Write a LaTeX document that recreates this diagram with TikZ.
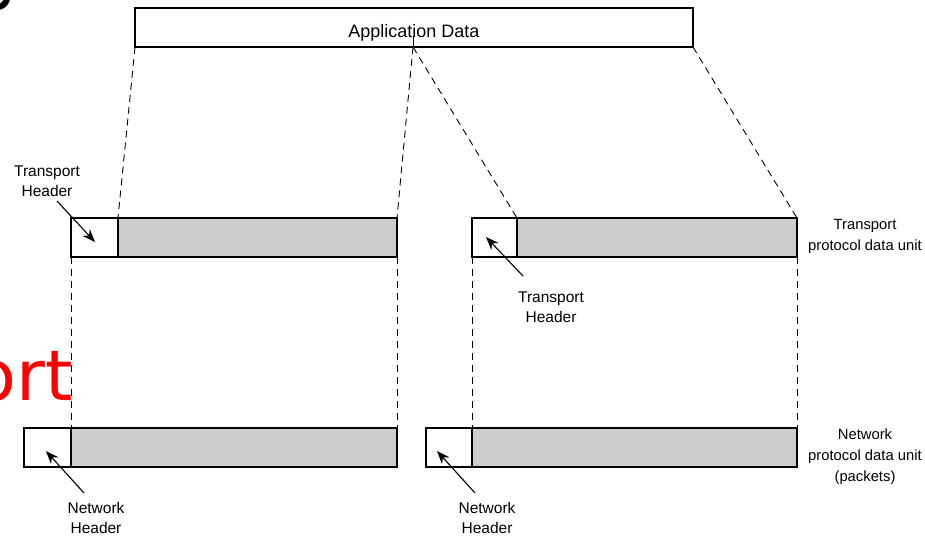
\documentclass[tikz,border=0pt]{standalone}
\usepackage{fontspec}
\setmainfont{Liberation Sans}
\newfontfamily\slidefont{DejaVu Sans}
\usetikzlibrary{arrows.meta}
\definecolor{pdugray}{RGB}{204,204,204}
\begin{document}
\begin{tikzpicture}[x=1pt,y=-1pt,
  pdu/.style={draw, line width=2.2pt, minimum height=39pt, inner sep=0pt, outer sep=0pt, anchor=north west},
  hdr/.style={pdu, fill=white},
  body/.style={pdu, fill=pdugray},
  guide/.style={draw, dash pattern=on 7pt off 5pt, line width=0.9pt},
  lbl/.style={align=center, font=\fontsize{15.5}{20.5}\selectfont, inner sep=0pt},
  side/.style={align=center, font=\fontsize{14.8}{21}\selectfont, inner sep=0pt},
  ptr/.style={-{Stealth[length=13pt,width=10pt]}, line width=1.1pt},
  big/.style={inner sep=0pt, font=\slidefont\fontsize{70}{70}\selectfont}
]
\useasboundingbox (0,0) rectangle (925,539);
\fill[white] (0,0) rectangle (925,539);

% slide remnants
\node[big, anchor=base east] (g) at (18,-4) {g};
\node[big, anchor=base east, text=red] (ort) at (73,400) {ort};

% application data
\node[draw, line width=2.2pt, minimum width=558pt, minimum height=39pt, inner sep=0pt, outer sep=0pt, anchor=north west,
      text height=19pt, text depth=0pt,
      font=\fontsize{18}{22}\selectfont] (app) at (135,8) {Application Data};
\coordinate (split) at (413,47);
\coordinate (tick) at (413,36);

% transport PDUs
\node[hdr, minimum width=47pt] (th1) at (71,218) {};
\node[body, minimum width=279pt] (tb1) at (118,218) {};
\node[hdr, minimum width=45pt] (th2) at (472,218) {};
\node[body, minimum width=280pt] (tb2) at (517,218) {};

% network PDUs
\node[hdr, minimum width=47pt] (nh1) at (24,428) {};
\node[body, minimum width=326pt] (nb1) at (71,428) {};
\node[hdr, minimum width=46pt] (nh2) at (426,428) {};
\node[body, minimum width=325pt] (nb2) at (472,428) {};

% dashed guides
\draw[line width=0.9pt] (tick) -- (split);
\draw[guide] (app.south west) -- (th1.north east);
\draw[guide] (split) -- (tb1.north east);
\draw[guide] (split) -- (th2.north east);
\draw[guide] (app.south east) -- (tb2.north east);
\draw[guide] (th1.south west) -- (nb1.north west);
\draw[guide] (tb1.south east) -- (nb1.north east);
\draw[guide] (th2.south west) -- (nb2.north west);
\draw[guide] (tb2.south east) -- (nb2.north east);

% labels
\node[lbl] (tl1) at (47,181) {Transport\\Header};
\node[lbl] (tl2) at (551,307) {Transport\\Header};
\node[lbl] (nl1) at (96,518) {Network\\Header};
\node[lbl] (nl2) at (487,518) {Network\\Header};
\node[side] (tpdu) at (865,236) {Transport\\protocol data unit};
\node[side] (npdu) at (865,457) {Network\\protocol data unit\\(packets)};

% pointers
\coordinate (a1s) at (57,201);  \coordinate (a1e) at (95,242);
\coordinate (a2s) at (523,276); \coordinate (a2e) at (486,237);
\coordinate (a3s) at (84,493);  \coordinate (a3e) at (46,451);
\coordinate (a4s) at (475,493); \coordinate (a4e) at (437,451);
\draw[ptr] (a1s) -- (a1e);
\draw[ptr] (a2s) -- (a2e);
\draw[ptr] (a3s) -- (a3e);
\draw[ptr] (a4s) -- (a4e);
\end{tikzpicture}
\end{document}
